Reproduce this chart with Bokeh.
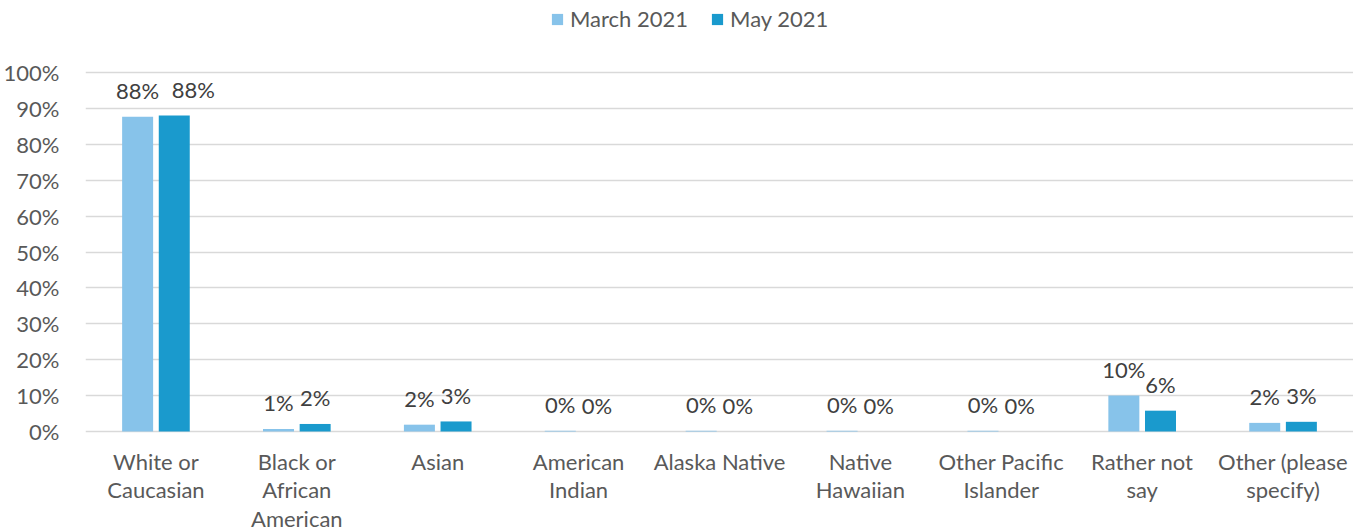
from bokeh.plotting import figure
from bokeh.models import ColumnDataSource, FactorRange, Legend, LegendItem, NumeralTickFormatter, FixedTicker
from bokeh.transform import dodge
from bokeh.embed import file_html
from bokeh.resources import INLINE
from bokeh.core.properties import value

categories = ["White or Caucasian", "Black or African American", "Asian", "American Indian",
              "Alaska Native", "Native Hawaiian", "Other Pacific Islander", "Rather not say",
              "Other (please specify)"]
label_lines = ["White or\nCaucasian", "Black or\nAfrican\nAmerican", "Asian", "American\nIndian",
               "Alaska Native", "Native\nHawaiian", "Other Pacific\nIslander", "Rather not\nsay",
               "Other (please\nspecify)"]
march_2021 = [0.877, 0.007, 0.019, 0.002, 0.002, 0.002, 0.002, 0.100, 0.024]
may_2021 = [0.880, 0.021, 0.028, 0.0, 0.0, 0.0, 0.0, 0.058, 0.027]
y_ticks = [0.0, 0.1, 0.2, 0.3, 0.4, 0.5, 0.6, 0.7, 0.8, 0.9, 1.0]

FONT = "Lato"
FS = "22px"
W, H = 1353, 531
LEFT = 80
Y0_PX, Y100_PX = 431, 72          # canvas rows of 0% and 100%
PPU = Y0_PX - Y100_PX
Y_END = 1 + Y100_PX / PPU
Y_START = -(H - Y0_PX) / PPU

march_lbl = [f"{round(v*100)}%" for v in march_2021]
may_lbl = [f"{round(v*100)}%" for v in may_2021]
# nudge a second label sideways when it would collide with its neighbour (as the original does)
may_nudge = [19 if (abs(a - b) * PPU < 22 and len(la) >= 3 and len(lb) >= 3) else 0
             for a, b, la, lb in zip(march_2021, may_2021, march_lbl, may_lbl)]

src = ColumnDataSource(dict(
    cat=categories, lines=label_lines, zero=[0] * len(categories),
    march=march_2021, may=may_2021, march_lbl=march_lbl, may_lbl=may_lbl,
    march_nudge=[0] * len(categories), may_nudge=may_nudge,
))

p = figure(width=W, height=H, x_range=FactorRange(*categories), y_range=(Y_START, Y_END),
           output_backend="svg", toolbar_location=None, x_axis_location=None,
           min_border_left=LEFT, min_border_right=0, min_border_bottom=0, min_border_top=0)
p.outline_line_color = None
p.background_fill_color = "white"
p.border_fill_color = "white"
p.xgrid.grid_line_color = None
p.ygrid.grid_line_color = "#D9D9D9"
p.ygrid.grid_line_width = 1.6
p.ygrid.ticker = FixedTicker(ticks=y_ticks)

r1 = p.vbar(x=dodge("cat", -0.13, range=p.x_range), top="march", width=0.22, source=src,
            fill_color="#87C3EA", line_color=None)
r2 = p.vbar(x=dodge("cat", 0.13, range=p.x_range), top="may", width=0.22, source=src,
            fill_color="#1A9ACD", line_color=None)

for off, col in ((-0.13, "march"), (0.13, "may")):
    p.text(x=dodge("cat", off, range=p.x_range), y=col, text=col + "_lbl", source=src,
           text_align="center", text_baseline="alphabetic", y_offset=-26, x_offset=col + "_nudge",
           text_font=value(FONT), text_font_size=FS, text_color="#404040")

# category labels
p.text(x="cat", y="zero", text="lines", source=src, text_align="center", text_baseline="top",
       y_offset=16, text_line_height=1.06,
       text_font=value(FONT), text_font_size=FS, text_color="#595959")

p.yaxis.ticker = FixedTicker(ticks=y_ticks)
p.yaxis.formatter = NumeralTickFormatter(format="0%")
p.yaxis.axis_line_color = None
p.yaxis.major_tick_line_color = None
p.yaxis.minor_tick_line_color = None
p.yaxis.major_label_text_font = FONT
p.yaxis.major_label_text_font_size = FS
p.yaxis.major_label_text_color = "#595959"
p.yaxis.major_label_standoff = 20

legend = Legend(items=[LegendItem(label="March 2021", renderers=[r1]),
                       LegendItem(label="May 2021", renderers=[r2])],
                orientation="horizontal", location=(465, H - 32),
                label_text_font=FONT, label_text_font_size=FS, label_text_color="#595959",
                glyph_width=14, glyph_height=14, spacing=22, border_line_color=None,
                background_fill_alpha=0, padding=4, margin=0, label_standoff=6)
p.add_layout(legend, "center")

open("out.html", "w").write(file_html(p, INLINE))
